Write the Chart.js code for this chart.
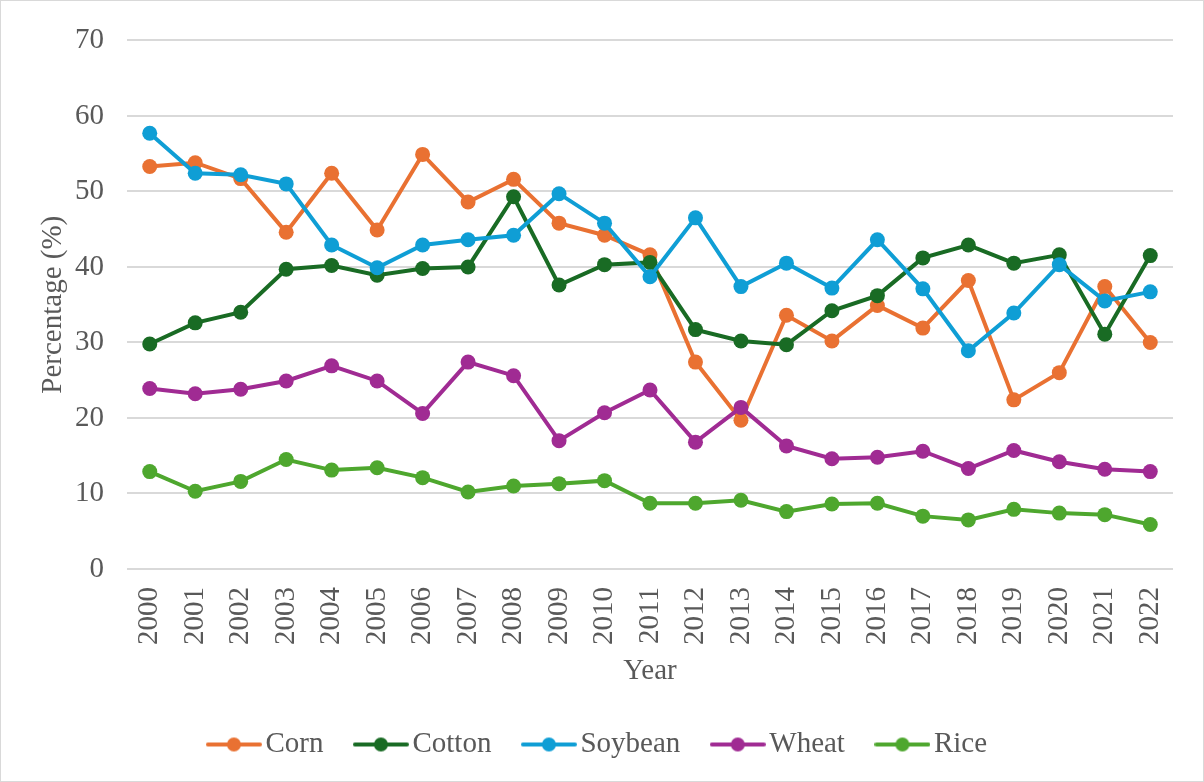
<!DOCTYPE html>
<html>
<head>
<meta charset="utf-8">
<script src="https://cdn.jsdelivr.net/npm/chart.js@4.4.1/dist/chart.umd.min.js"></script>
<style>
  html, body { margin: 0; padding: 0; background: #ffffff; }
  #wrap { position: relative; width: 1204px; height: 782px; }
</style>
</head>
<body>
<div id="wrap"><canvas id="chart" width="1204" height="782"></canvas></div>
<script>
// Share of planted area by crop, 2000-2022 (%)
const years = ['2000','2001','2002','2003','2004','2005','2006','2007','2008','2009','2010','2011',
               '2012','2013','2014','2015','2016','2017','2018','2019','2020','2021','2022'];

const corn    = [53.3,53.8,51.7,44.6,52.4,44.9,54.9,48.6,51.6,45.8,44.2,41.6,27.4,19.7,33.6,30.2,34.9,31.9,38.2,22.4,26.0,37.4,30.0];
const cotton  = [29.8,32.6,34.0,39.7,40.2,38.9,39.8,40.0,49.3,37.6,40.3,40.6,31.7,30.2,29.7,34.2,36.2,41.2,42.9,40.5,41.6,31.1,41.5];
const soybean = [57.7,52.4,52.2,51.0,42.9,39.9,42.9,43.6,44.2,49.7,45.8,38.7,46.5,37.4,40.5,37.2,43.6,37.1,28.9,33.9,40.3,35.5,36.7];
const wheat   = [23.9,23.2,23.8,24.9,26.9,24.9,20.6,27.4,25.6,17.0,20.7,23.7,16.8,21.4,16.3,14.6,14.8,15.6,13.3,15.7,14.2,13.2,12.9];
const rice    = [12.9,10.3,11.6,14.5,13.1,13.4,12.1,10.2,11.0,11.3,11.7,8.7,8.7,9.1,7.6,8.6,8.7,7.0,6.5,7.9,7.4,7.2,5.9];

const seriesNames  = ['Corn', 'Cotton', 'Soybean', 'Wheat', 'Rice'];
const seriesData   = [corn, cotton, soybean, wheat, rice];
const seriesColors = ['#E97132', '#196B24', '#0F9ED5', '#A02B93', '#4EA72E'];

const FONT = "'Liberation Serif', 'Times New Roman', serif";
const TEXT = '#595959';

// legend marker: short line with a dot in the middle
function legendMarker(color) {
  const c = document.createElement('canvas');
  c.width = 56; c.height = 16;
  const g = c.getContext('2d');
  g.strokeStyle = color;
  g.lineWidth = 4;
  g.lineCap = 'round';
  g.beginPath(); g.moveTo(2, 8); g.lineTo(54, 8); g.stroke();
  g.fillStyle = color;
  g.beginPath(); g.arc(28, 8, 7, 0, Math.PI * 2); g.fill();
  return c;
}
const markers = seriesColors.map(legendMarker);

// later series are painted on top of earlier ones
const datasets = seriesNames.map((name, i) => ({
  label: name,
  data: seriesData[i],
  borderColor: seriesColors[i],
  backgroundColor: seriesColors[i],
  pointBackgroundColor: seriesColors[i],
  pointBorderColor: seriesColors[i],
  borderWidth: 4,
  pointRadius: 7.5,
  pointBorderWidth: 0,
  pointHoverRadius: 7.5,
  tension: 0,
  order: seriesNames.length - i
}));

const frame = {
  id: 'frame',
  afterDraw(chart) {
    const ctx = chart.ctx;
    ctx.save();
    ctx.strokeStyle = '#d9d9d9';
    ctx.lineWidth = 1;
    ctx.strokeRect(0.5, 0.5, chart.width - 1, chart.height - 1);
    ctx.restore();
  }
};

new Chart(document.getElementById('chart'), {
  type: 'line',
  data: { labels: years, datasets },
  plugins: [frame],
  options: {
    responsive: false,
    animation: false,
    devicePixelRatio: 1,
    layout: { padding: { top: 30, right: 31, bottom: 13, left: 31 } },
    plugins: {
      tooltip: { enabled: false },
      legend: {
        position: 'bottom',
        labels: {
          usePointStyle: true,
          pointStyleWidth: 34,
          padding: 40.5,
          color: TEXT,
          font: { family: FONT, size: 29 },
          generateLabels(chart) {
            return chart.data.datasets.map((ds, i) => ({
              text: ds.label,
              fillStyle: ds.borderColor,
              strokeStyle: ds.borderColor,
              fontColor: TEXT,
              lineWidth: 0,
              pointStyle: markers[i],
              hidden: false,
              datasetIndex: i
            }));
          }
        }
      }
    },
    scales: {
      x: {
        offset: true,
        grid: { display: false, drawTicks: false },
        border: { display: false },
        ticks: {
          color: TEXT,
          font: { family: FONT, size: 29 },
          minRotation: 90,
          maxRotation: 90,
          padding: 18,
          autoSkip: false
        },
        title: {
          display: true,
          text: 'Year',
          color: TEXT,
          font: { family: FONT, size: 29 },
          padding: { top: 0, bottom: 1 }
        },
        afterFit(scale) { scale.height = 120.5; }
      },
      y: {
        min: 0,
        max: 70,
        grid: { color: '#d9d9d9', lineWidth: 2, drawTicks: false },
        border: { display: false },
        ticks: {
          stepSize: 10,
          color: TEXT,
          font: { family: FONT, size: 29 },
          padding: 23
        },
        title: {
          display: true,
          text: 'Percentage (%)',
          color: TEXT,
          font: { family: FONT, size: 29 },
          padding: { top: 4.6, bottom: 0 }
        },
        afterFit(scale) { scale.width = 96; }
      }
    }
  }
});
</script>
</body>
</html>
